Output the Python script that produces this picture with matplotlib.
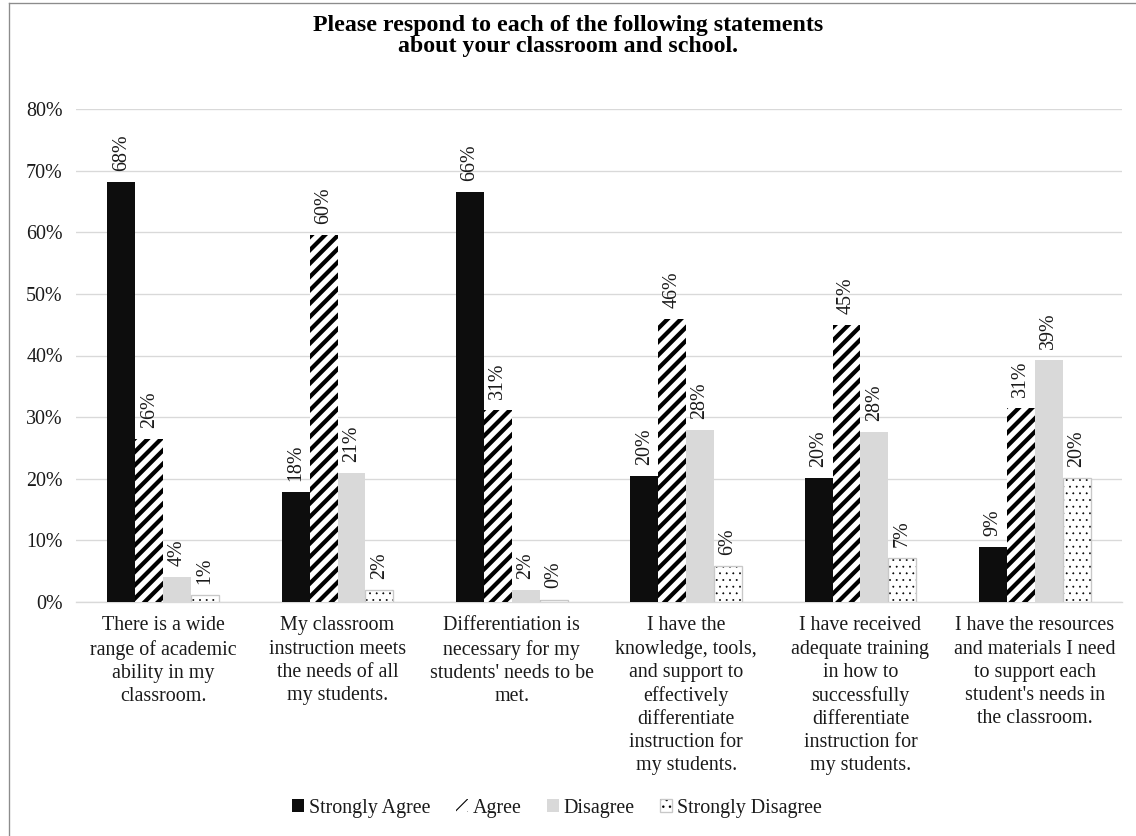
import matplotlib
matplotlib.use("Agg")
import matplotlib.pyplot as plt
import numpy as np
from matplotlib.legend_handler import HandlerTuple
from matplotlib.lines import Line2D

categories = [
    "There is a wide\nrange of academic\nability in my\nclassroom.",
    "My classroom\ninstruction meets\nthe needs of all\nmy students.",
    "Differentiation is\nnecessary for my\nstudents' needs to be\nmet.",
    "I have the\nknowledge, tools,\nand support to\neffectively\ndifferentiate\ninstruction for\nmy students.",
    "I have received\nadequate training\nin how to\nsuccessfully\ndifferentiate\ninstruction for\nmy students.",
    "I have the resources\nand materials I need\nto support each\nstudent's needs in\nthe classroom.",
]
series_names = ["Strongly Agree", "Agree", "Disagree", "Strongly Disagree"]
strongly_agree = [0.682, 0.179, 0.665, 0.205, 0.201, 0.089]
agree = [0.264, 0.596, 0.311, 0.459, 0.450, 0.314]
disagree = [0.040, 0.209, 0.020, 0.279, 0.276, 0.393]
strongly_disagree = [0.011, 0.019, 0.004, 0.058, 0.071, 0.201]
y_ticks = [0.0, 0.1, 0.2, 0.3, 0.4, 0.5, 0.6, 0.7, 0.8]

DPI = 80
W, H = 1136, 836
FONT = "Liberation Serif"
FS = 18
TXT = "#1a1a1a"
GRID = "#d9d9d9"

plt.rcParams["font.family"] = [FONT, "DejaVu Serif"]

fig = plt.figure(figsize=(W / DPI, H / DPI), dpi=DPI)
fig.patch.set_facecolor("white")

# outer frame of the chart area
fig.add_artist(Line2D([8.5 / W, 8.5 / W], [0, 1 - 2.5 / H], color="#8c8c8c", lw=1.2))
fig.add_artist(Line2D([8.5 / W, 1.0], [1 - 2.5 / H, 1 - 2.5 / H], color="#8c8c8c", lw=1.2))

ax = fig.add_axes([76 / W, 1 - 602 / H, (1122 - 76) / W, (602 - 109) / H])

x = np.arange(len(categories))
bw = 0.16
offsets = (np.arange(4) - 1.5) * bw


def bar_with_hatch(xs, vals, hatch_lw, **kw):
    with plt.rc_context({"hatch.linewidth": hatch_lw}):
        bars = ax.bar(xs, vals, bw, **kw)
    for b in bars:
        if hasattr(b, "set_hatch_linewidth"):
            b.set_hatch_linewidth(hatch_lw)
    return bars


b_sa = ax.bar(x + offsets[0], strongly_agree, bw, color="#0d0d0d", lw=0, zorder=3)
b_a = bar_with_hatch(x + offsets[1], agree, 3.8, color="white", edgecolor="black",
                     lw=0, hatch="//", zorder=3)
b_d = ax.bar(x + offsets[2], disagree, bw, color="#d9d9d9", lw=0, zorder=3)
b_sd = bar_with_hatch(x + offsets[3], strongly_disagree, 0.5, color="white",
                      edgecolor="black", lw=0, hatch="..", zorder=3)
b_sd_edge = ax.bar(x + offsets[3], strongly_disagree, bw, fill=False,
                   edgecolor="#c8c8c8", lw=1.2, zorder=4)

# value labels, rotated above each bar
for vals, off in zip([strongly_agree, agree, disagree, strongly_disagree], offsets):
    for xi, v in zip(x, vals):
        ax.annotate(f"{v:.0%}", (xi + off, v), xytext=(0, 10), textcoords="offset points",
                    rotation=90, ha="center", va="bottom", fontsize=FS, color=TXT,
                    zorder=5)

ax.set_xlim(-0.5, len(categories) - 0.5)
ax.set_ylim(0, 0.8)
ax.set_yticks(y_ticks)
ax.set_yticklabels([f"{t:.0%}" for t in y_ticks], fontsize=FS, color=TXT)
ax.set_xticks(x)
ax.set_xticklabels(categories, fontsize=FS, color=TXT, linespacing=1.29)
ax.tick_params(axis="both", length=0)
ax.tick_params(axis="y", pad=12)
ax.tick_params(axis="x", pad=13)

ax.yaxis.grid(True, color=GRID, lw=1.2)
ax.set_axisbelow(True)
for s in ["left", "right", "top"]:
    ax.spines[s].set_visible(False)
ax.spines["bottom"].set_color(GRID)
ax.spines["bottom"].set_linewidth(1.2)

fig.text(0.5, 1 - 36 / H,
         "Please respond to each of the following statements\nabout your classroom and school.",
         ha="center", va="center", fontsize=21.5, fontweight="bold", color="black",
         linespacing=1.02)

handles = [b_sa, b_a, b_d, (b_sd, b_sd_edge)]
fig.legend(handles, series_names, loc="center", bbox_to_anchor=(557 / W, 1 - 808 / H),
           ncol=4, frameon=False, fontsize=FS, handlelength=0.6, handleheight=0.6,
           handletextpad=0.25, columnspacing=1.25, labelcolor=TXT,
           handler_map={tuple: HandlerTuple(ndivide=1)})

fig.savefig("out.png", dpi=DPI, facecolor="white")
